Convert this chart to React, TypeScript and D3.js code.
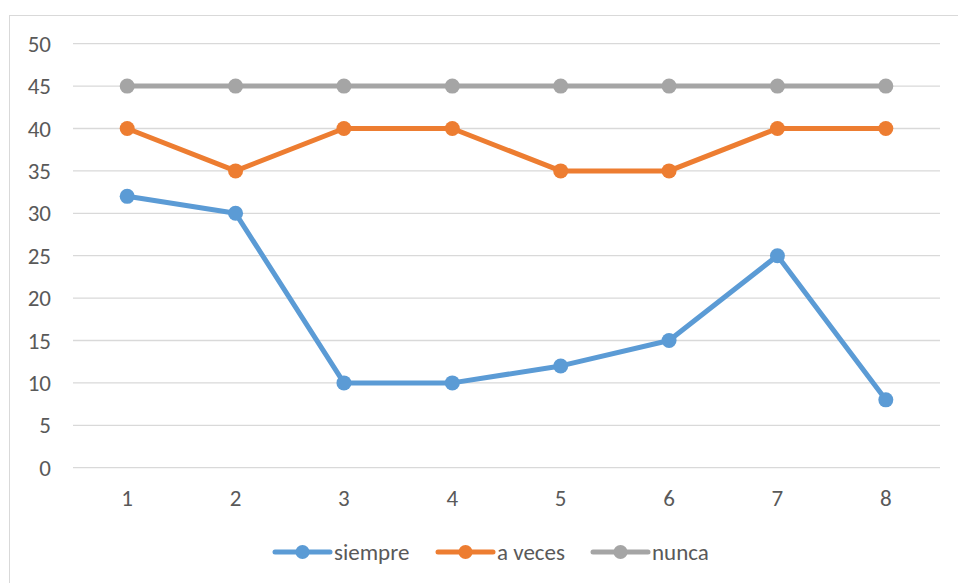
import React, { useEffect, useRef } from "react";
import { line, scaleBand, scaleLinear, select } from "d3";

const categories = ["1", "2", "3", "4", "5", "6", "7", "8"];
const siempre = [32, 30, 10, 10, 12, 15, 25, 8];
const aVeces = [40, 35, 40, 40, 35, 35, 40, 40];
const nunca = [45, 45, 45, 45, 45, 45, 45, 45];
const yTicks = [0, 5, 10, 15, 20, 25, 30, 35, 40, 45, 50];

const seriesList = [
  { name: "siempre", values: siempre, color: "#5B9BD5" },
  { name: "a veces", values: aVeces, color: "#ED7D31" },
  { name: "nunca", values: nunca, color: "#A5A5A5" },
];

const App = () => {
  const ref = useRef<SVGSVGElement>(null);

  useEffect(() => {
    const width = 958;
    const height = 583;
    const margin = { top: 44, right: 18, left: 73, bottom: 116 };
    const font = "Carlito, Calibri, 'Open Sans', sans-serif";
    const textColor = "#595959";
    const fontSize = 23;

    const svg = select(ref.current);
    svg.selectAll("*").remove();

    // outer chart border (cropped on the right/bottom)
    svg
      .append("rect")
      .attr("x", 9.5)
      .attr("y", 15.5)
      .attr("width", width + 20)
      .attr("height", height + 20)
      .attr("fill", "white")
      .attr("stroke", "#D9D9D9");

    const x = scaleBand()
      .domain(categories)
      .range([margin.left, width - margin.right]);

    const y = scaleLinear()
      .domain([0, 50])
      .range([height - margin.bottom + 0.7, margin.top - 0.3]);

    // gridlines
    svg
      .append("g")
      .selectAll("line")
      .data(yTicks)
      .join("line")
      .attr("x1", margin.left)
      .attr("x2", width - margin.right)
      .attr("y1", (d) => y(d))
      .attr("y2", (d) => y(d))
      .attr("stroke", "#D9D9D9")
      .attr("stroke-width", 1.3);

    // y labels
    svg
      .append("g")
      .selectAll("text")
      .data(yTicks)
      .join("text")
      .attr("x", 51)
      .attr("y", (d) => y(d))
      .attr("dy", "0.35em")
      .attr("text-anchor", "end")
      .attr("font-family", font)
      .attr("font-size", fontSize)
      .attr("fill", textColor)
      .text((d) => d);

    // x labels
    svg
      .append("g")
      .selectAll("text")
      .data(categories)
      .join("text")
      .attr("x", (d) => (x(d) as number) + x.bandwidth() / 2)
      .attr("y", 498)
      .attr("dy", "0.35em")
      .attr("text-anchor", "middle")
      .attr("font-family", font)
      .attr("font-size", fontSize)
      .attr("fill", textColor)
      .text((d) => d);

    const cx = (i: number) => (x(categories[i]) as number) + x.bandwidth() / 2;
    const path = line<number>()
      .x((d, i) => cx(i))
      .y((d) => y(d));

    // draw in reverse so siempre ends up on top
    [...seriesList].reverse().forEach((s) => {
      const g = svg.append("g");
      g.append("path")
        .attr("d", path(s.values))
        .attr("fill", "none")
        .attr("stroke", s.color)
        .attr("stroke-width", 5)
        .attr("stroke-linejoin", "round")
        .attr("stroke-linecap", "round");
      g.selectAll("circle")
        .data(s.values)
        .join("circle")
        .attr("cx", (d, i) => cx(i))
        .attr("cy", (d) => y(d))
        .attr("r", 7.5)
        .attr("fill", s.color);
    });

    // legend
    const legendX = [275, 438, 593];
    const legendY = 552;
    seriesList.forEach((s, i) => {
      const g = svg.append("g").attr("transform", `translate(${legendX[i]},${legendY})`);
      g.append("line")
        .attr("x1", 0)
        .attr("x2", 55)
        .attr("stroke", s.color)
        .attr("stroke-width", 5)
        .attr("stroke-linecap", "round");
      g.append("circle").attr("cx", 27.5).attr("r", 7).attr("fill", s.color);
      g.append("text")
        .attr("x", 59)
        .attr("dy", "0.35em")
        .attr("font-family", font)
        .attr("font-size", fontSize)
        .attr("fill", textColor)
        .text(s.name);
    });
  }, []);

  return (
    <svg
      ref={ref}
      width={958}
      height={583}
      style={{ position: "absolute", left: 0, top: 0, background: "white" }}
    ></svg>
  );
};

export default App;
